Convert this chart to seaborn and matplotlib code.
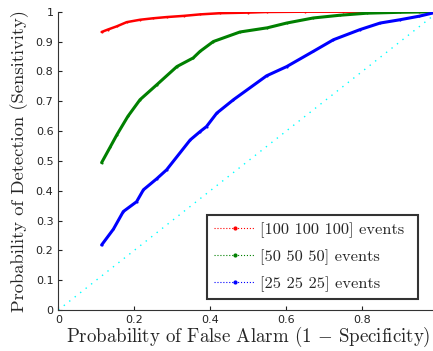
import numpy as np
import pandas as pd
import matplotlib
matplotlib.use("Agg")
import matplotlib.pyplot as plt
import seaborn as sns
from matplotlib.lines import Line2D

# ---- data ----
red_x = [0.114, 0.13, 0.154, 0.18, 0.215, 0.25, 0.285, 0.33, 0.373, 0.426, 0.5, 0.548, 0.65, 0.75, 0.85, 0.95, 1.0]
red_y = [0.932, 0.94, 0.951, 0.965, 0.973, 0.978, 0.982, 0.986, 0.991, 0.995, 0.997, 0.999, 1.0, 1.0, 1.0, 1.0, 1.0]

green_x = [0.114, 0.136, 0.154, 0.183, 0.215, 0.259, 0.312, 0.355, 0.373, 0.408, 0.478, 0.55, 0.601, 0.671, 0.74, 0.812, 0.9, 1.0]
green_y = [0.494, 0.545, 0.587, 0.649, 0.705, 0.755, 0.816, 0.845, 0.867, 0.90, 0.932, 0.946, 0.962, 0.979, 0.988, 0.995, 0.998, 1.0]

blue_x = [0.114, 0.145, 0.171, 0.206, 0.224, 0.259, 0.285, 0.347, 0.373, 0.39, 0.417, 0.461, 0.548, 0.601, 0.671, 0.724, 0.794, 0.847, 0.899, 0.95, 1.0]
blue_y = [0.218, 0.271, 0.330, 0.363, 0.403, 0.440, 0.47, 0.570, 0.598, 0.615, 0.66, 0.705, 0.785, 0.816, 0.867, 0.906, 0.94, 0.962, 0.973, 0.985, 1.0]

chance_x = [0.0, 1.0]
chance_y = [0.0, 1.0]

labels = ["[100 100 100] events", "[50 50 50] events", "[25 25 25] events"]
colors = ["#ff0000", "#008000", "#0000ff"]
widths = [1.8, 2.2, 2.2]

xticks = [0, 0.2, 0.4, 0.6, 0.8]
yticks = [0, 0.1, 0.2, 0.3, 0.4, 0.5, 0.6, 0.7, 0.8, 0.9, 1.0]

# ---- style ----
sns.set_style("ticks")
plt.rcParams["font.family"] = ["DejaVu Sans"]
plt.rcParams["mathtext.fontset"] = "cm"

fig = plt.figure(figsize=(4.33, 3.51), dpi=100)
ax = fig.add_axes([58.3 / 433, 1 - 310 / 351, 380 / 433, 298.3 / 351])

series = [(red_x, red_y), (green_x, green_y), (blue_x, blue_y)]
for (xs, ys), c, w in zip(series, colors, widths):
    df = pd.DataFrame({"x": xs, "y": ys})
    sns.lineplot(data=df, x="x", y="y", ax=ax, color=c, lw=w, sort=False,
                 estimator=None, marker=".", markersize=3, markeredgewidth=0)

cdf = pd.DataFrame({"x": chance_x, "y": chance_y})
sns.lineplot(data=cdf, x="x", y="y", ax=ax, color="#00ffff", lw=1.0,
             linestyle=(0, (1, 4)), estimator=None, sort=False)

ax.set_xlim(0, 1)
ax.set_ylim(0, 1)
ax.set_xticks(xticks)
ax.set_xticklabels([f"{t:g}" for t in xticks])
ax.set_yticks(yticks)
ax.set_yticklabels([f"{t:g}" for t in yticks])
ax.tick_params(direction="in", length=3, width=0.8, labelsize=8, colors="#222222")
for s in ["top", "right"]:
    ax.spines[s].set_visible(False)
for s in ["left", "bottom"]:
    ax.spines[s].set_color("#333333")
    ax.spines[s].set_linewidth(0.8)

ax.set_xlabel(r"Probability of False Alarm (1 $-$ Specificity)", family="cmr10",
              fontsize=13.6, labelpad=0)
ax.set_ylabel("Probability of Detection (Sensitivity)", family="cmr10",
              fontsize=13.4, labelpad=5)

handles = [Line2D([0], [0], color=c, lw=0.8, linestyle=":", marker=".",
                  markersize=4, markevery=[1]) for c in colors]
for h in handles:
    h.set_data([0, 0.5, 1], [0, 0, 0])
leg = ax.legend(handles, labels, loc="lower left",
                bbox_to_anchor=(148.4 / 380, 10.7 / 298.3, 211 / 380, 89.3 / 298.3),
                mode="expand", prop={"family": "cmr10", "size": 11.8},
                frameon=True, fancybox=False, handlelength=2.5, labelspacing=0.7,
                borderpad=0.45, handletextpad=0.3, borderaxespad=0)
leg.get_frame().set_edgecolor("black")
leg.get_frame().set_linewidth(1.5)

fig.savefig("out.png", dpi=100)
